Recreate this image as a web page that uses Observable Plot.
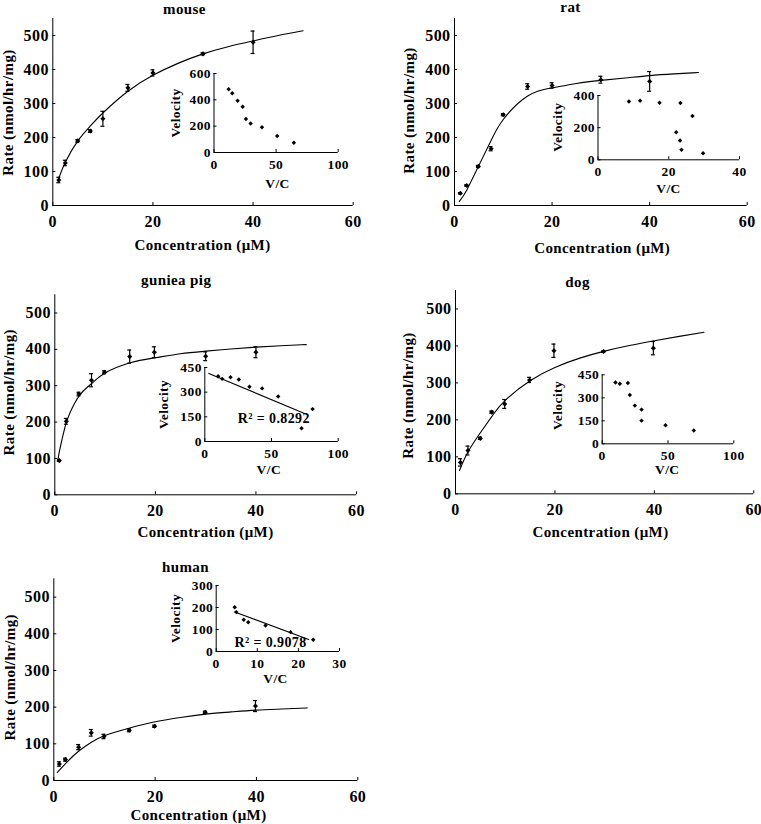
<!DOCTYPE html>
<html><head><meta charset="utf-8">
<script src="https://cdn.jsdelivr.net/npm/d3@7"></script>
<script src="https://cdn.jsdelivr.net/npm/@observablehq/plot@0.6"></script>
<style>
body{margin:0;background:#fff;}
#wrap{position:relative;width:761px;height:824px;overflow:hidden;background:#fff;}
#wrap svg{position:absolute;left:0;top:0;overflow:visible;background:transparent !important;}
</style></head><body><div id="wrap"></div>
<script>
// ---------------- DATA ----------------
// mouse
const mouseConc = [1.2, 2.5, 5, 7.5, 10, 15, 20, 30, 40];
const mouseRate = [75, 125, 190, 219, 255, 346, 390, 446, 480];
const mouseErr  = [8, 8, 4, 4, 22, 10, 9, 3, 33];
const mouseFitConc = [1, 2.5, 5, 7.5, 10, 15, 20, 25, 30, 35, 40, 45, 50];
const mouseFitRate = [72, 127, 190, 234, 272, 336, 383, 418, 446, 467, 484, 500, 514];
const mouseVC  = [11.8, 14.7, 19.0, 23.1, 25.7, 29.5, 38.6, 50.9, 64.3];
const mouseVel = [480, 450, 393, 347, 255, 220, 192, 125, 74];
// rat
const ratConc = [1.2, 2.5, 4.9, 7.5, 10, 15, 20, 30, 40];
const ratRate = [36, 59, 115, 167, 267, 350, 353, 370, 365];
const ratErr  = [2, 2, 3, 6, 3, 8, 8, 10, 29];
const ratFitConc = [1, 2.5, 5, 7.5, 10, 15, 20, 25, 30, 35, 40, 45, 50];
const ratFitRate = [12, 45, 118, 191, 253, 322, 346, 359, 368, 375, 382, 387, 391];
const ratVC  = [8.75, 11.9, 17.4, 23.3, 26.7, 22.1, 23.2, 23.6, 29.7];
const ratVel = [363, 367, 355, 353, 272, 171, 120, 62, 41];
// guinea pig
const gpConc = [0.9, 2.3, 4.8, 7.3, 9.9, 14.9, 19.8, 30, 40];
const gpRate = [94, 202, 277, 315, 337, 380, 392, 381, 392];
const gpErr  = [2, 8, 5, 18, 4, 18, 15, 12, 15];
const gpFitConc = [0.6, 1, 2, 3, 5, 7.5, 10, 15, 20, 25, 30, 35, 40, 45, 50];
const gpFitRate = [95, 125, 185, 225, 275, 308, 335, 363, 377, 388, 395, 401, 406, 410, 413];
const gpVC  = [10, 13, 19.3, 25.5, 33.5, 43, 55, 72.5, 80.8];
const gpVel = [397, 381, 391, 377, 333, 323, 274, 81, 197];
const gpLineVC  = [3, 77];
const gpLineVel = [414, 163];
const gpR2 = "R² = 0.8292";
// dog
const dogConc = [1, 2.5, 5, 7.3, 9.9, 14.9, 19.8, 29.8, 39.8];
const dogRate = [85, 117, 150, 221, 243, 308, 387, 385, 394];
const dogErr  = [10, 12, 3, 3, 12, 7, 18, 2, 18];
const dogFitConc = [0.8, 2.5, 5, 7.5, 10, 15, 20, 25, 30, 35, 40, 45, 50];
const dogFitRate = [63, 113, 165, 213, 253, 306, 342, 367, 386, 401, 414, 426, 437];
const dogVC  = [10.1, 13.4, 19.5, 21, 24.8, 29.9, 29.9, 48.1, 69.6];
const dogVel = [400, 392, 396, 318, 249, 223, 151, 121, 87];
// human
const humanConc = [1.1, 2.3, 4.9, 7.4, 9.9, 14.9, 19.9, 29.9, 39.8];
const humanRate = [45, 57, 91, 130, 120, 137, 148, 186, 203];
const humanErr  = [6, 4, 7, 9, 6, 4, 3, 3, 15];
const humanFitConc = [0.7, 2.5, 5, 7.5, 10, 15, 20, 25, 30, 35, 40, 45, 50];
const humanFitRate = [22, 49, 81, 105, 122, 143, 160, 172, 181, 187, 192, 195, 198];
const humanVC  = [4.5, 4.9, 6.7, 7.8, 12.0, 18.1, 23.6];
const humanVel = [201, 179, 144, 133, 118, 88, 53];
const humanLineVC  = [4.5, 22.5];
const humanLineVel = [180, 55];
const humanR2 = "R² = 0.9078";

// tick labels
const mainXTicks = [0, 20, 40, 60];
const mainYTicks = [0, 100, 200, 300, 400, 500];
const xLabel = "Concentration (μM)";
const yLabel = "Rate (nmol/hr/mg)";
const insetXLabel = "V/C";
const insetYLabel = "Velocity";

// ---------------- LAYOUT ----------------
const W = 761, H = 824;
const FONT = "'Liberation Serif','Times New Roman',serif";
const wrap = document.getElementById("wrap");

function label(str, f, X, Y, size, rotate = 0) {
  return Plot.text([str], {
    frameAnchor: "top-left", dx: X - f.x0, dy: Y - f.yt,
    rotate, textAnchor: "middle", lineAnchor: "middle",
    fontSize: size, fontWeight: "bold", fill: "black"
  });
}

function basePlot(f, xdom, ydom, marks) {
  return Plot.plot({
    width: W, height: H,
    marginLeft: f.x0, marginRight: W - f.x1, marginTop: f.yt, marginBottom: H - f.y0,
    x: {domain: xdom}, y: {domain: ydom},
    style: {fontFamily: FONT, fontWeight: "bold", color: "black", background: "transparent", overflow: "visible", letterSpacing: "0.4px"},
    marks
  });
}

function mainPanel(p) {
  const f = p.frame;
  const pts = p.conc.map((c, i) => ({c, r: p.rate[i], e: p.err[i]}));
  const fit = p.fitConc.map((c, i) => ({c, r: p.fitRate[i]}));
  return basePlot(f, [0, 60], [0, 550], [
    Plot.ruleX([0], {stroke: "black"}),
    Plot.ruleY([0], {stroke: "black"}),
    Plot.axisX({ticks: mainXTicks, tickSize: -3, tickPadding: 13, label: null, fontSize: 16, fontWeight: "bold", tickFormat: d => d}),
    Plot.axisY({ticks: mainYTicks, tickSize: -3, tickPadding: 7, label: null, fontSize: 16, fontWeight: "bold", tickFormat: d => d}),
    Plot.line(fit, {x: "c", y: "r", curve: "natural", stroke: "black", strokeWidth: 1.1}),
    Plot.ruleX(pts, {x: "c", y1: d => d.r - d.e, y2: d => d.r + d.e, stroke: "black", strokeWidth: 1.2}),
    Plot.ruleY(pts, {y: d => d.r + d.e, x1: "c", x2: "c", insetLeft: -2, insetRight: -2, stroke: "black", strokeWidth: 1.2}),
    Plot.ruleY(pts, {y: d => d.r - d.e, x1: "c", x2: "c", insetLeft: -2, insetRight: -2, stroke: "black", strokeWidth: 1.2}),
    Plot.dot(pts, {x: "c", y: "r", symbol: "diamond2", r: 2.3, fill: "black", stroke: "none"}),
    label(p.title, f, p.titlePos[0], p.titlePos[1], 15),
    label(xLabel, f, p.xlabPos[0], p.xlabPos[1], 15),
    label(yLabel, f, p.ylabPos[0], p.ylabPos[1], 15, -90)
  ]);
}

function insetPanel(p) {
  const f = p.frame;
  const pts = p.vc.map((v, i) => ({v, y: p.vel[i]}));
  const marks = [
    Plot.ruleX([0], {stroke: "black"}),
    Plot.ruleY([0], {stroke: "black"}),
    Plot.axisX({ticks: p.xticks, tickSize: -3, tickPadding: 10, label: null, fontSize: 13.5, fontWeight: "bold", tickFormat: d => d}),
    Plot.axisY({ticks: p.yticks, tickSize: -3, tickPadding: 6, label: null, fontSize: 13.5, fontWeight: "bold", tickFormat: d => d}),
    Plot.dot(pts, {x: "v", y: "y", symbol: "diamond2", r: 2, fill: "black", stroke: "none"}),
    label(insetXLabel, f, p.xlabPos[0], p.xlabPos[1], 13.5),
    label(insetYLabel, f, p.ylabPos[0], p.ylabPos[1], 13.5, -90)
  ];
  if (p.lineVC) {
    const ln = p.lineVC.map((v, i) => ({v, y: p.lineVel[i]}));
    marks.push(Plot.line(ln, {x: "v", y: "y", stroke: "black", strokeWidth: 1.1}));
    marks.push(label(p.r2, f, p.r2Pos[0], p.r2Pos[1], 14));
  }
  return basePlot(f, [0, p.xticks[p.xticks.length - 1]], [0, p.yticks[p.yticks.length - 1]], marks);
}

const mains = [
  {title: "mouse", conc: mouseConc, rate: mouseRate, err: mouseErr, fitConc: mouseFitConc, fitRate: mouseFitRate,
   frame: {x0: 52.3, x1: 352.7, y0: 205, yt: 18}, titlePos: [184, 9], xlabPos: [202, 245], ylabPos: [8, 112]},
  {title: "rat", conc: ratConc, rate: ratRate, err: ratErr, fitConc: ratFitConc, fitRate: ratFitRate,
   frame: {x0: 454, x1: 746.7, y0: 205, yt: 18}, titlePos: [570, 7], xlabPos: [601.7, 248], ylabPos: [408.3, 110]},
  {title: "guniea pig", conc: gpConc, rate: gpRate, err: gpErr, fitConc: gpFitConc, fitRate: gpFitRate,
   frame: {x0: 54.3, x1: 356, y0: 494.3, yt: 294.3}, titlePos: [175.7, 280], xlabPos: [205, 531.7], ylabPos: [8.3, 391.7]},
  {title: "dog", conc: dogConc, rate: dogRate, err: dogErr, fitConc: dogFitConc, fitRate: dogFitRate,
   frame: {x0: 455, x1: 753.3, y0: 493.3, yt: 290}, titlePos: [577, 282], xlabPos: [600, 531.7], ylabPos: [408, 395]},
  {title: "human", conc: humanConc, rate: humanRate, err: humanErr, fitConc: humanFitConc, fitRate: humanFitRate,
   frame: {x0: 53.3, x1: 357.3, y0: 780, yt: 578.3}, titlePos: [185, 566.7], xlabPos: [198, 815], ylabPos: [9.3, 676.7]}
];
const insets = [
  {vc: mouseVC, vel: mouseVel, xticks: [0, 50, 100], yticks: [0, 200, 400, 600],
   frame: {x0: 213.5, x1: 337.7, y0: 152, yt: 73}, xlabPos: [277, 183.5], ylabPos: [175, 112.5]},
  {vc: ratVC, vel: ratVel, xticks: [0, 20, 40], yticks: [0, 200, 400],
   frame: {x0: 597.5, x1: 739, y0: 159.3, yt: 95}, xlabPos: [668, 188.5], ylabPos: [556.7, 126.7]},
  {vc: gpVC, vel: gpVel, xticks: [0, 50, 100], yticks: [0, 150, 300, 450],
   frame: {x0: 204.3, x1: 337.7, y0: 441, yt: 367}, xlabPos: [268.3, 469], ylabPos: [163.3, 404],
   lineVC: gpLineVC, lineVel: gpLineVel, r2: gpR2, r2Pos: [273.3, 418.3]},
  {vc: dogVC, vel: dogVel, xticks: [0, 50, 100], yticks: [0, 150, 300, 450],
   frame: {x0: 601.7, x1: 733.3, y0: 443.3, yt: 374.3}, xlabPos: [666.7, 469], ylabPos: [556.7, 405]},
  {vc: humanVC, vel: humanVel, xticks: [0, 10, 20, 30], yticks: [0, 100, 200, 300],
   frame: {x0: 215.7, x1: 339, y0: 651, yt: 585}, xlabPos: [275, 678.5], ylabPos: [175, 618],
   lineVC: humanLineVC, lineVel: humanLineVel, r2: humanR2, r2Pos: [270, 641.7]}
];

mains.forEach(p => wrap.appendChild(mainPanel(p)));
insets.forEach(p => wrap.appendChild(insetPanel(p)));
</script></body></html>
